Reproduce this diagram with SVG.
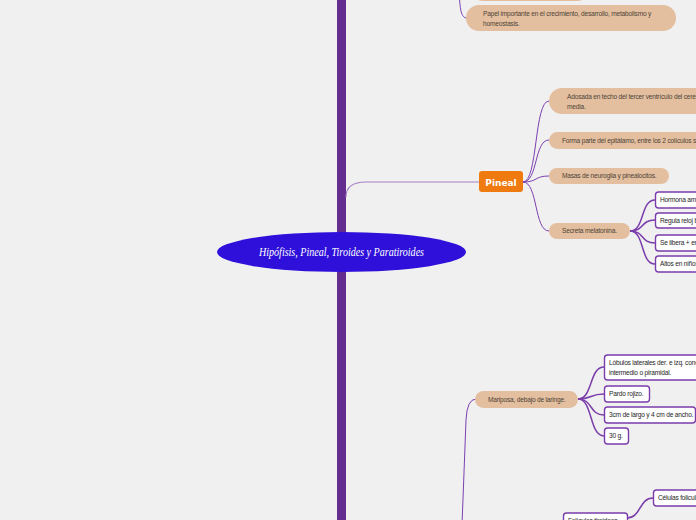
<svg xmlns="http://www.w3.org/2000/svg" width="696" height="520" viewBox="0 0 696 520">
<style>
.bg{fill:#f0f0f0}
.pill{fill:#e3bf9f}
.pt{font-family:"Liberation Sans",Arial,sans-serif;font-size:6.6px;letter-spacing:-0.2px;fill:#4f4439}
.box{fill:#ffffff;stroke:#7a3dab;stroke-width:1.4}
.bt{font-family:"Liberation Sans",Arial,sans-serif;font-size:6.6px;letter-spacing:-0.2px;fill:#1e1e1e}
.c1{fill:none;stroke:#7b40b0;stroke-width:1}
.c2{fill:none;stroke:#7a3dab;stroke-width:1.5}
.c0{fill:none;stroke:#a680c6;stroke-width:1.2}
</style>
<rect class="bg" x="0" y="0" width="696" height="520"/>
<rect id="spine" x="337" y="0" width="9" height="520" fill="#652c90"/>
<g id="connectors">
<path class="c0" d="M346,197 Q346,182 366,182 L479,182"/>
<path class="c1" d="M459,-10 C460,10 461,18 467,18"/>
<path class="c1" d="M523,182 C538,182 534,101 549,101"/>
<path class="c1" d="M523,182 C538,182 534,140 549,140"/>
<path class="c1" d="M523,182 C538,182 534,176 549,176"/>
<path class="c1" d="M523,182 C538,182 534,231 549,231"/>
<path class="c2" d="M630,231 C645,231 640,200 655,200"/>
<path class="c2" d="M630,231 C645,231 640,220 655,220"/>
<path class="c2" d="M630,231 C645,231 640,243 655,243"/>
<path class="c2" d="M630,231 C645,231 640,264 655,264"/>
<path class="c1" d="M462,525 L466,420 Q467,399 476,399"/>
<path class="c2" d="M578,399 C593,399 589,367 604,367"/>
<path class="c2" d="M578,399 C593,399 589,394 604,394"/>
<path class="c2" d="M578,399 C593,399 589,415 604,415"/>
<path class="c2" d="M578,399 C593,399 589,436 604,436"/>
<path class="c2" d="M627,518 C641,518 639,498 653,498"/>
</g>
<g id="top-partial">
<rect class="pill" x="470" y="-30" width="120" height="31" rx="13"/>
</g>
<g id="papel">
<rect class="pill" x="466" y="5" width="210" height="26" rx="13"/>
<text class="pt" x="483" y="16">Papel importante en el crecimiento, desarrollo, metabolismo y</text>
<text class="pt" x="483" y="26">homeostasis.</text>
</g>
<g id="center">
<ellipse cx="341.5" cy="252" rx="124.5" ry="20" fill="#2e10da"/>
<text x="341.5" y="256" text-anchor="middle" font-family="'Liberation Serif',serif" font-style="italic" font-size="11.5" fill="#ffffff" textLength="165" lengthAdjust="spacingAndGlyphs">Hipófisis, Pineal, Tiroides y Paratiroides</text>
</g>
<g id="pineal">
<rect x="479" y="171" width="44" height="21" rx="3" fill="#ef7a10"/>
<text x="501" y="185.5" text-anchor="middle" font-family="'DejaVu Sans',sans-serif" font-weight="bold" font-size="9" fill="#ffffff">Pineal</text>
</g>
<g id="adosada">
<rect class="pill" x="549" y="88" width="170" height="26" rx="13"/>
<text class="pt" x="567" y="99">Adosada en techo del tercer ventrículo del cerebro, en la línea</text>
<text class="pt" x="567" y="109">media.</text>
</g>
<g id="forma">
<rect class="pill" x="549" y="132" width="170" height="17" rx="8.5"/>
<text class="pt" x="562" y="142.5">Forma parte del epitálamo, entre los 2 colículos superiores</text>
</g>
<g id="masas">
<rect class="pill" x="549" y="168" width="120" height="16" rx="8"/>
<text class="pt" x="562" y="178.3">Masas de neuroglia y pinealocitos.</text>
</g>
<g id="secreta">
<rect class="pill" x="549" y="223" width="81" height="16" rx="8"/>
<text class="pt" x="562" y="233.3">Secreta melatonina.</text>
</g>
<g id="hormona">
<rect class="box" x="655.5" y="192" width="60" height="16" rx="3"/>
<text class="bt" x="660" y="202.3">Hormona amina</text>
</g>
<g id="regula">
<rect class="box" x="655.5" y="213" width="70" height="15" rx="3"/>
<text class="bt" x="660" y="222.8">Regula reloj biológico</text>
</g>
<g id="libera">
<rect class="box" x="655.5" y="235" width="70" height="16" rx="3"/>
<text class="bt" x="660" y="245.3">Se libera + en la oscuridad</text>
</g>
<g id="altos">
<rect class="box" x="655.5" y="256" width="70" height="16" rx="3"/>
<text class="bt" x="660" y="266.3">Altos en niños</text>
</g>
<g id="mariposa">
<rect class="pill" x="475" y="391" width="103" height="17" rx="8.5"/>
<text class="pt" x="488" y="401.8">Mariposa, debajo de laringe.</text>
</g>
<g id="lobulos">
<rect class="box" x="604.5" y="355" width="110" height="25" rx="3"/>
<text class="bt" x="609" y="364.5">Lóbulos laterales der. e izq. conectados por istmo</text>
<text class="bt" x="609" y="374.5">intermedio o piramidal.</text>
</g>
<g id="pardo">
<rect class="box" x="604.5" y="386" width="45" height="16" rx="3"/>
<text class="bt" x="609" y="396.3">Pardo rojizo.</text>
</g>
<g id="medidas">
<rect class="box" x="604.5" y="407" width="91" height="16" rx="3"/>
<text class="bt" x="609" y="417.3">3cm de largo y 4 cm de ancho.</text>
</g>
<g id="peso">
<rect class="box" x="604.5" y="428" width="24" height="16" rx="3"/>
<text class="bt" x="609" y="438.3">30 g.</text>
</g>
<g id="celulas">
<rect class="box" x="653.5" y="490" width="70" height="16" rx="3"/>
<text class="bt" x="658" y="500.3">Células foliculares</text>
</g>
<g id="foliculos">
<rect class="box" x="563.5" y="513" width="64" height="16" rx="3"/>
<text class="bt" x="568" y="523.3">Folículos tiroideos</text>
</g>
</svg>
